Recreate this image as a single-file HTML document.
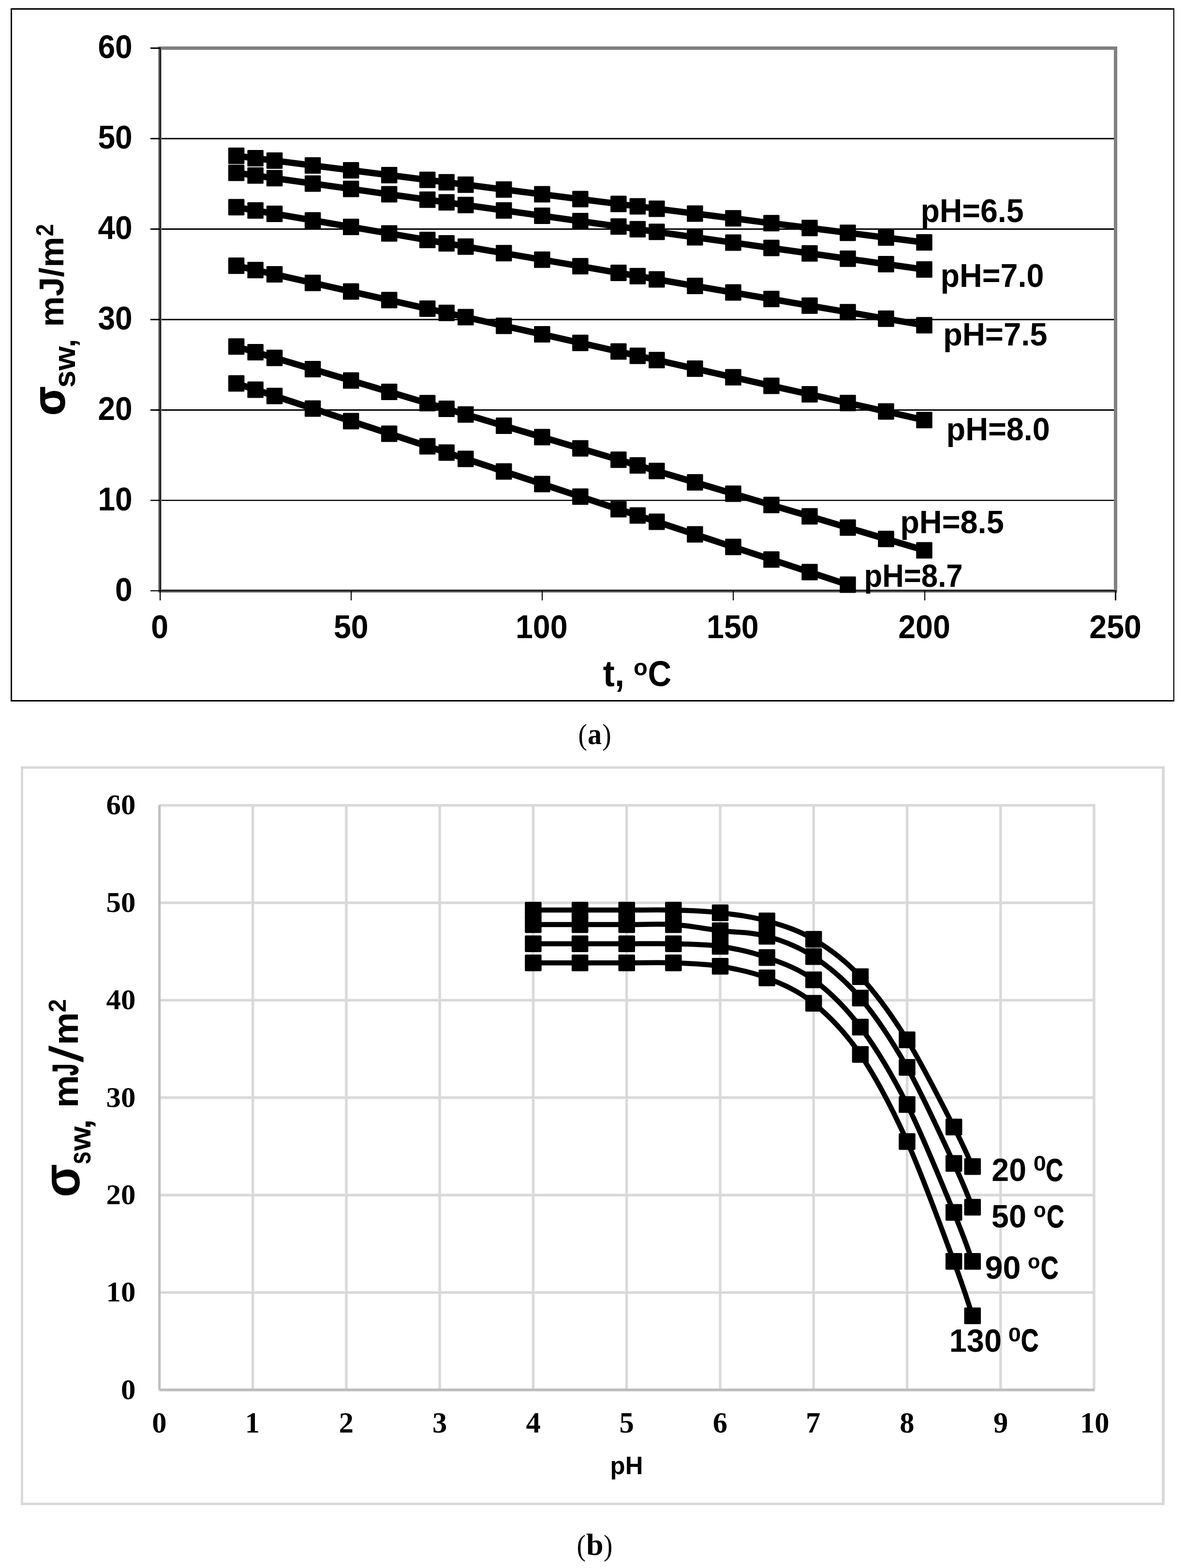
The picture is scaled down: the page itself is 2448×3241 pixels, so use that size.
<!DOCTYPE html>
<html lang="en">
<head>
<meta charset="utf-8">
<title>Figure: surface energy vs temperature and pH</title>
<style>
html,body{margin:0;padding:0;background:#fff;}
body{width:2448px;height:3241px;overflow:hidden;}
svg{display:block;}
text{white-space:pre;}
</style>
</head>
<body>
<svg width="2448" height="3241" viewBox="0 0 2448 3241">
<rect x="0" y="0" width="2448" height="3241" fill="#fff"/>
<g id="chart-a">
<rect x="22" y="17" width="2406" height="1433" fill="#fff"/>
<rect x="22" y="17" width="2406" height="3" fill="#000"/>
<rect x="22" y="1447" width="2406" height="3" fill="#000"/>
<rect x="22" y="17" width="3" height="1433" fill="#000"/>
<rect x="2425.8" y="17" width="2.2" height="1433" fill="#000"/>
<rect x="330.5" y="99.5" width="1976" height="1122" fill="#fff" stroke="#808080" stroke-width="7"/>
<rect x="334" y="1033.0" width="1969" height="2.4" fill="#000"/>
<rect x="334" y="846.0" width="1969" height="3" fill="#000"/>
<rect x="334" y="659.0" width="1969" height="3" fill="#000"/>
<rect x="334" y="472.0" width="1969" height="3" fill="#000"/>
<rect x="334" y="285.0" width="1969" height="3" fill="#000"/>
<rect x="330" y="98" width="2.2" height="1143" fill="#000"/>
<rect x="311" y="1220" width="1997" height="2.2" fill="#000"/>
<rect x="311" y="1033.0" width="20" height="2.4" fill="#000"/>
<rect x="311" y="846.0" width="20" height="3" fill="#000"/>
<rect x="311" y="659.0" width="20" height="3" fill="#000"/>
<rect x="311" y="472.0" width="20" height="3" fill="#000"/>
<rect x="311" y="285.0" width="20" height="3" fill="#000"/>
<rect x="311" y="98.0" width="20" height="3" fill="#000"/>
<rect x="330" y="1221" width="2.1" height="20" fill="#000"/>
<rect x="725" y="1221" width="2.1" height="20" fill="#000"/>
<rect x="1120" y="1221" width="2.1" height="20" fill="#000"/>
<rect x="1515" y="1221" width="2.1" height="20" fill="#000"/>
<rect x="1911" y="1221" width="2.1" height="20" fill="#000"/>
<rect x="2305" y="1221" width="3" height="20" fill="#000"/>
<path d="M488.6,322.1 L528.2,327.1 L567.7,332.0 L646.7,342.0 L725.7,351.9 L804.7,361.9 L883.7,371.8 L923.2,376.8 L962.8,381.7 L1041.8,391.7 L1120.8,401.6 L1199.8,411.6 L1278.8,421.5 L1318.3,426.5 L1357.9,431.5 L1436.9,441.4 L1515.9,451.3 L1594.9,461.3 L1673.9,471.2 L1753.0,481.2 L1832.0,491.1 L1911.0,501.1" fill="none" stroke="#000" stroke-width="13.3" stroke-linejoin="round"/>
<rect x="471.9" y="305.1" width="33.5" height="34" rx="1.5" fill="#000"/>
<rect x="511.4" y="310.1" width="33.5" height="34" rx="1.5" fill="#000"/>
<rect x="550.9" y="315.0" width="33.5" height="34" rx="1.5" fill="#000"/>
<rect x="629.9" y="325.0" width="33.5" height="34" rx="1.5" fill="#000"/>
<rect x="709.0" y="334.9" width="33.5" height="34" rx="1.5" fill="#000"/>
<rect x="788.0" y="344.9" width="33.5" height="34" rx="1.5" fill="#000"/>
<rect x="867.0" y="354.8" width="33.5" height="34" rx="1.5" fill="#000"/>
<rect x="906.5" y="359.8" width="33.5" height="34" rx="1.5" fill="#000"/>
<rect x="946.0" y="364.7" width="33.5" height="34" rx="1.5" fill="#000"/>
<rect x="1025.0" y="374.7" width="33.5" height="34" rx="1.5" fill="#000"/>
<rect x="1104.1" y="384.6" width="33.5" height="34" rx="1.5" fill="#000"/>
<rect x="1183.1" y="394.6" width="33.5" height="34" rx="1.5" fill="#000"/>
<rect x="1262.1" y="404.5" width="33.5" height="34" rx="1.5" fill="#000"/>
<rect x="1301.6" y="409.5" width="33.5" height="34" rx="1.5" fill="#000"/>
<rect x="1341.1" y="414.5" width="33.5" height="34" rx="1.5" fill="#000"/>
<rect x="1420.1" y="424.4" width="33.5" height="34" rx="1.5" fill="#000"/>
<rect x="1499.2" y="434.3" width="33.5" height="34" rx="1.5" fill="#000"/>
<rect x="1578.2" y="444.3" width="33.5" height="34" rx="1.5" fill="#000"/>
<rect x="1657.2" y="454.2" width="33.5" height="34" rx="1.5" fill="#000"/>
<rect x="1736.2" y="464.2" width="33.5" height="34" rx="1.5" fill="#000"/>
<rect x="1815.2" y="474.1" width="33.5" height="34" rx="1.5" fill="#000"/>
<rect x="1894.2" y="484.1" width="33.5" height="34" rx="1.5" fill="#000"/>
<path d="M488.6,357.2 L528.2,362.8 L567.7,368.3 L646.7,379.4 L725.7,390.5 L804.7,401.6 L883.7,412.7 L923.2,418.3 L962.8,423.8 L1041.8,434.9 L1120.8,446.0 L1199.8,457.1 L1278.8,468.2 L1318.3,473.7 L1357.9,479.3 L1436.9,490.4 L1515.9,501.5 L1594.9,512.6 L1673.9,523.7 L1753.0,534.8 L1832.0,545.9 L1911.0,557.0" fill="none" stroke="#000" stroke-width="13.3" stroke-linejoin="round"/>
<rect x="471.9" y="340.2" width="33.5" height="34" rx="1.5" fill="#000"/>
<rect x="511.4" y="345.8" width="33.5" height="34" rx="1.5" fill="#000"/>
<rect x="550.9" y="351.3" width="33.5" height="34" rx="1.5" fill="#000"/>
<rect x="629.9" y="362.4" width="33.5" height="34" rx="1.5" fill="#000"/>
<rect x="709.0" y="373.5" width="33.5" height="34" rx="1.5" fill="#000"/>
<rect x="788.0" y="384.6" width="33.5" height="34" rx="1.5" fill="#000"/>
<rect x="867.0" y="395.7" width="33.5" height="34" rx="1.5" fill="#000"/>
<rect x="906.5" y="401.3" width="33.5" height="34" rx="1.5" fill="#000"/>
<rect x="946.0" y="406.8" width="33.5" height="34" rx="1.5" fill="#000"/>
<rect x="1025.0" y="417.9" width="33.5" height="34" rx="1.5" fill="#000"/>
<rect x="1104.1" y="429.0" width="33.5" height="34" rx="1.5" fill="#000"/>
<rect x="1183.1" y="440.1" width="33.5" height="34" rx="1.5" fill="#000"/>
<rect x="1262.1" y="451.2" width="33.5" height="34" rx="1.5" fill="#000"/>
<rect x="1301.6" y="456.7" width="33.5" height="34" rx="1.5" fill="#000"/>
<rect x="1341.1" y="462.3" width="33.5" height="34" rx="1.5" fill="#000"/>
<rect x="1420.1" y="473.4" width="33.5" height="34" rx="1.5" fill="#000"/>
<rect x="1499.2" y="484.5" width="33.5" height="34" rx="1.5" fill="#000"/>
<rect x="1578.2" y="495.6" width="33.5" height="34" rx="1.5" fill="#000"/>
<rect x="1657.2" y="506.7" width="33.5" height="34" rx="1.5" fill="#000"/>
<rect x="1736.2" y="517.8" width="33.5" height="34" rx="1.5" fill="#000"/>
<rect x="1815.2" y="528.9" width="33.5" height="34" rx="1.5" fill="#000"/>
<rect x="1894.2" y="540.0" width="33.5" height="34" rx="1.5" fill="#000"/>
<path d="M488.6,428.3 L528.2,435.1 L567.7,441.9 L646.7,455.4 L725.7,469.0 L804.7,482.5 L883.7,496.1 L923.2,502.9 L962.8,509.7 L1041.8,523.2 L1120.8,536.8 L1199.8,550.3 L1278.8,563.9 L1318.3,570.7 L1357.9,577.4 L1436.9,591.0 L1515.9,604.6 L1594.9,618.1 L1673.9,631.7 L1753.0,645.2 L1832.0,658.8 L1911.0,672.3" fill="none" stroke="#000" stroke-width="13.3" stroke-linejoin="round"/>
<rect x="471.9" y="411.3" width="33.5" height="34" rx="1.5" fill="#000"/>
<rect x="511.4" y="418.1" width="33.5" height="34" rx="1.5" fill="#000"/>
<rect x="550.9" y="424.9" width="33.5" height="34" rx="1.5" fill="#000"/>
<rect x="629.9" y="438.4" width="33.5" height="34" rx="1.5" fill="#000"/>
<rect x="709.0" y="452.0" width="33.5" height="34" rx="1.5" fill="#000"/>
<rect x="788.0" y="465.5" width="33.5" height="34" rx="1.5" fill="#000"/>
<rect x="867.0" y="479.1" width="33.5" height="34" rx="1.5" fill="#000"/>
<rect x="906.5" y="485.9" width="33.5" height="34" rx="1.5" fill="#000"/>
<rect x="946.0" y="492.7" width="33.5" height="34" rx="1.5" fill="#000"/>
<rect x="1025.0" y="506.2" width="33.5" height="34" rx="1.5" fill="#000"/>
<rect x="1104.1" y="519.8" width="33.5" height="34" rx="1.5" fill="#000"/>
<rect x="1183.1" y="533.3" width="33.5" height="34" rx="1.5" fill="#000"/>
<rect x="1262.1" y="546.9" width="33.5" height="34" rx="1.5" fill="#000"/>
<rect x="1301.6" y="553.7" width="33.5" height="34" rx="1.5" fill="#000"/>
<rect x="1341.1" y="560.4" width="33.5" height="34" rx="1.5" fill="#000"/>
<rect x="1420.1" y="574.0" width="33.5" height="34" rx="1.5" fill="#000"/>
<rect x="1499.2" y="587.6" width="33.5" height="34" rx="1.5" fill="#000"/>
<rect x="1578.2" y="601.1" width="33.5" height="34" rx="1.5" fill="#000"/>
<rect x="1657.2" y="614.7" width="33.5" height="34" rx="1.5" fill="#000"/>
<rect x="1736.2" y="628.2" width="33.5" height="34" rx="1.5" fill="#000"/>
<rect x="1815.2" y="641.8" width="33.5" height="34" rx="1.5" fill="#000"/>
<rect x="1894.2" y="655.3" width="33.5" height="34" rx="1.5" fill="#000"/>
<path d="M488.6,549.3 L528.2,558.2 L567.7,567.0 L646.7,584.7 L725.7,602.5 L804.7,620.2 L883.7,637.9 L923.2,646.8 L962.8,655.6 L1041.8,673.4 L1120.8,691.1 L1199.8,708.8 L1278.8,726.5 L1318.3,735.4 L1357.9,744.3 L1436.9,762.0 L1515.9,779.7 L1594.9,797.4 L1673.9,815.1 L1753.0,832.9 L1832.0,850.6 L1911.0,868.3" fill="none" stroke="#000" stroke-width="13.3" stroke-linejoin="round"/>
<rect x="471.9" y="532.3" width="33.5" height="34" rx="1.5" fill="#000"/>
<rect x="511.4" y="541.2" width="33.5" height="34" rx="1.5" fill="#000"/>
<rect x="550.9" y="550.0" width="33.5" height="34" rx="1.5" fill="#000"/>
<rect x="629.9" y="567.7" width="33.5" height="34" rx="1.5" fill="#000"/>
<rect x="709.0" y="585.5" width="33.5" height="34" rx="1.5" fill="#000"/>
<rect x="788.0" y="603.2" width="33.5" height="34" rx="1.5" fill="#000"/>
<rect x="867.0" y="620.9" width="33.5" height="34" rx="1.5" fill="#000"/>
<rect x="906.5" y="629.8" width="33.5" height="34" rx="1.5" fill="#000"/>
<rect x="946.0" y="638.6" width="33.5" height="34" rx="1.5" fill="#000"/>
<rect x="1025.0" y="656.4" width="33.5" height="34" rx="1.5" fill="#000"/>
<rect x="1104.1" y="674.1" width="33.5" height="34" rx="1.5" fill="#000"/>
<rect x="1183.1" y="691.8" width="33.5" height="34" rx="1.5" fill="#000"/>
<rect x="1262.1" y="709.5" width="33.5" height="34" rx="1.5" fill="#000"/>
<rect x="1301.6" y="718.4" width="33.5" height="34" rx="1.5" fill="#000"/>
<rect x="1341.1" y="727.3" width="33.5" height="34" rx="1.5" fill="#000"/>
<rect x="1420.1" y="745.0" width="33.5" height="34" rx="1.5" fill="#000"/>
<rect x="1499.2" y="762.7" width="33.5" height="34" rx="1.5" fill="#000"/>
<rect x="1578.2" y="780.4" width="33.5" height="34" rx="1.5" fill="#000"/>
<rect x="1657.2" y="798.1" width="33.5" height="34" rx="1.5" fill="#000"/>
<rect x="1736.2" y="815.9" width="33.5" height="34" rx="1.5" fill="#000"/>
<rect x="1815.2" y="833.6" width="33.5" height="34" rx="1.5" fill="#000"/>
<rect x="1894.2" y="851.3" width="33.5" height="34" rx="1.5" fill="#000"/>
<path d="M488.6,716.3 L528.2,728.0 L567.7,739.7 L646.7,763.1 L725.7,786.5 L804.7,809.9 L883.7,833.3 L923.2,845.0 L962.8,856.7 L1041.8,880.1 L1120.8,903.5 L1199.8,926.8 L1278.8,950.2 L1318.3,961.9 L1357.9,973.6 L1436.9,997.0 L1515.9,1020.4 L1594.9,1043.8 L1673.9,1067.2 L1753.0,1090.6 L1832.0,1114.0 L1911.0,1137.4" fill="none" stroke="#000" stroke-width="13.3" stroke-linejoin="round"/>
<rect x="471.9" y="699.3" width="33.5" height="34" rx="1.5" fill="#000"/>
<rect x="511.4" y="711.0" width="33.5" height="34" rx="1.5" fill="#000"/>
<rect x="550.9" y="722.7" width="33.5" height="34" rx="1.5" fill="#000"/>
<rect x="629.9" y="746.1" width="33.5" height="34" rx="1.5" fill="#000"/>
<rect x="709.0" y="769.5" width="33.5" height="34" rx="1.5" fill="#000"/>
<rect x="788.0" y="792.9" width="33.5" height="34" rx="1.5" fill="#000"/>
<rect x="867.0" y="816.3" width="33.5" height="34" rx="1.5" fill="#000"/>
<rect x="906.5" y="828.0" width="33.5" height="34" rx="1.5" fill="#000"/>
<rect x="946.0" y="839.7" width="33.5" height="34" rx="1.5" fill="#000"/>
<rect x="1025.0" y="863.1" width="33.5" height="34" rx="1.5" fill="#000"/>
<rect x="1104.1" y="886.5" width="33.5" height="34" rx="1.5" fill="#000"/>
<rect x="1183.1" y="909.8" width="33.5" height="34" rx="1.5" fill="#000"/>
<rect x="1262.1" y="933.2" width="33.5" height="34" rx="1.5" fill="#000"/>
<rect x="1301.6" y="944.9" width="33.5" height="34" rx="1.5" fill="#000"/>
<rect x="1341.1" y="956.6" width="33.5" height="34" rx="1.5" fill="#000"/>
<rect x="1420.1" y="980.0" width="33.5" height="34" rx="1.5" fill="#000"/>
<rect x="1499.2" y="1003.4" width="33.5" height="34" rx="1.5" fill="#000"/>
<rect x="1578.2" y="1026.8" width="33.5" height="34" rx="1.5" fill="#000"/>
<rect x="1657.2" y="1050.2" width="33.5" height="34" rx="1.5" fill="#000"/>
<rect x="1736.2" y="1073.6" width="33.5" height="34" rx="1.5" fill="#000"/>
<rect x="1815.2" y="1097.0" width="33.5" height="34" rx="1.5" fill="#000"/>
<rect x="1894.2" y="1120.4" width="33.5" height="34" rx="1.5" fill="#000"/>
<path d="M488.6,792.4 L528.2,805.4 L567.7,818.4 L646.7,844.4 L725.7,870.4 L804.7,896.4 L883.7,922.4 L923.2,935.4 L962.8,948.4 L1041.8,974.4 L1120.8,1000.4 L1199.8,1026.4 L1278.8,1052.4 L1318.3,1065.4 L1357.9,1078.4 L1436.9,1104.5 L1515.9,1130.5 L1594.9,1156.5 L1673.9,1182.5 L1753.0,1208.5" fill="none" stroke="#000" stroke-width="13.3" stroke-linejoin="round"/>
<rect x="471.9" y="775.4" width="33.5" height="34" rx="1.5" fill="#000"/>
<rect x="511.4" y="788.4" width="33.5" height="34" rx="1.5" fill="#000"/>
<rect x="550.9" y="801.4" width="33.5" height="34" rx="1.5" fill="#000"/>
<rect x="629.9" y="827.4" width="33.5" height="34" rx="1.5" fill="#000"/>
<rect x="709.0" y="853.4" width="33.5" height="34" rx="1.5" fill="#000"/>
<rect x="788.0" y="879.4" width="33.5" height="34" rx="1.5" fill="#000"/>
<rect x="867.0" y="905.4" width="33.5" height="34" rx="1.5" fill="#000"/>
<rect x="906.5" y="918.4" width="33.5" height="34" rx="1.5" fill="#000"/>
<rect x="946.0" y="931.4" width="33.5" height="34" rx="1.5" fill="#000"/>
<rect x="1025.0" y="957.4" width="33.5" height="34" rx="1.5" fill="#000"/>
<rect x="1104.1" y="983.4" width="33.5" height="34" rx="1.5" fill="#000"/>
<rect x="1183.1" y="1009.4" width="33.5" height="34" rx="1.5" fill="#000"/>
<rect x="1262.1" y="1035.4" width="33.5" height="34" rx="1.5" fill="#000"/>
<rect x="1301.6" y="1048.4" width="33.5" height="34" rx="1.5" fill="#000"/>
<rect x="1341.1" y="1061.4" width="33.5" height="34" rx="1.5" fill="#000"/>
<rect x="1420.1" y="1087.5" width="33.5" height="34" rx="1.5" fill="#000"/>
<rect x="1499.2" y="1113.5" width="33.5" height="34" rx="1.5" fill="#000"/>
<rect x="1578.2" y="1139.5" width="33.5" height="34" rx="1.5" fill="#000"/>
<rect x="1657.2" y="1165.5" width="33.5" height="34" rx="1.5" fill="#000"/>
<rect x="1736.2" y="1191.5" width="33.5" height="34" rx="1.5" fill="#000"/>
<g fill="#000">
<text x="237.90" y="1242.12" font-family="'Liberation Sans', Arial, Helvetica, sans-serif" font-weight="bold" font-size="68.21" textLength="35.63" lengthAdjust="spacingAndGlyphs">0</text>
<text x="202.45" y="1055.12" font-family="'Liberation Sans', Arial, Helvetica, sans-serif" font-weight="bold" font-size="68.21" textLength="71.26" lengthAdjust="spacingAndGlyphs">10</text>
<text x="202.45" y="868.12" font-family="'Liberation Sans', Arial, Helvetica, sans-serif" font-weight="bold" font-size="68.21" textLength="71.26" lengthAdjust="spacingAndGlyphs">20</text>
<text x="202.45" y="681.12" font-family="'Liberation Sans', Arial, Helvetica, sans-serif" font-weight="bold" font-size="68.21" textLength="71.26" lengthAdjust="spacingAndGlyphs">30</text>
<text x="202.45" y="494.12" font-family="'Liberation Sans', Arial, Helvetica, sans-serif" font-weight="bold" font-size="68.21" textLength="71.26" lengthAdjust="spacingAndGlyphs">40</text>
<text x="202.45" y="307.12" font-family="'Liberation Sans', Arial, Helvetica, sans-serif" font-weight="bold" font-size="68.21" textLength="71.26" lengthAdjust="spacingAndGlyphs">50</text>
<text x="202.45" y="120.12" font-family="'Liberation Sans', Arial, Helvetica, sans-serif" font-weight="bold" font-size="68.21" textLength="71.26" lengthAdjust="spacingAndGlyphs">60</text>
<text x="312.34" y="1319.42" font-family="'Liberation Sans', Arial, Helvetica, sans-serif" font-weight="bold" font-size="67.78" textLength="35.88" lengthAdjust="spacingAndGlyphs">0</text>
<text x="689.91" y="1319.42" font-family="'Liberation Sans', Arial, Helvetica, sans-serif" font-weight="bold" font-size="67.78" textLength="71.77" lengthAdjust="spacingAndGlyphs">50</text>
<text x="1065.98" y="1319.42" font-family="'Liberation Sans', Arial, Helvetica, sans-serif" font-weight="bold" font-size="67.78" textLength="107.65" lengthAdjust="spacingAndGlyphs">100</text>
<text x="1461.08" y="1319.42" font-family="'Liberation Sans', Arial, Helvetica, sans-serif" font-weight="bold" font-size="67.78" textLength="107.65" lengthAdjust="spacingAndGlyphs">150</text>
<text x="1857.15" y="1319.42" font-family="'Liberation Sans', Arial, Helvetica, sans-serif" font-weight="bold" font-size="67.78" textLength="107.65" lengthAdjust="spacingAndGlyphs">200</text>
<text x="2252.25" y="1319.42" font-family="'Liberation Sans', Arial, Helvetica, sans-serif" font-weight="bold" font-size="67.78" textLength="107.65" lengthAdjust="spacingAndGlyphs">250</text>
<text x="1903.51" y="459.00" font-family="'Liberation Sans', Arial, Helvetica, sans-serif" font-weight="bold" font-size="67.68" textLength="213.04" lengthAdjust="spacingAndGlyphs">pH=6.5</text>
<text x="1944.59" y="593.30" font-family="'Liberation Sans', Arial, Helvetica, sans-serif" font-weight="bold" font-size="68.12" textLength="213.83" lengthAdjust="spacingAndGlyphs">pH=7.0</text>
<text x="1949.95" y="714.30" font-family="'Liberation Sans', Arial, Helvetica, sans-serif" font-weight="bold" font-size="67.54" textLength="215.62" lengthAdjust="spacingAndGlyphs">pH=7.5</text>
<text x="1956.58" y="910.20" font-family="'Liberation Sans', Arial, Helvetica, sans-serif" font-weight="bold" font-size="67.39" textLength="214.34" lengthAdjust="spacingAndGlyphs">pH=8.0</text>
<text x="1861.17" y="1101.70" font-family="'Liberation Sans', Arial, Helvetica, sans-serif" font-weight="bold" font-size="67.39" textLength="214.59" lengthAdjust="spacingAndGlyphs">pH=8.5</text>
<text x="1786.59" y="1213.00" font-family="'Liberation Sans', Arial, Helvetica, sans-serif" font-weight="bold" font-size="65.80" textLength="204.02" lengthAdjust="spacingAndGlyphs">pH=8.7</text>
<text><tspan x="1246.83" y="1417.95" font-family="'Liberation Sans', Arial, Helvetica, sans-serif" font-weight="bold" font-size="76.30" textLength="64.39" lengthAdjust="spacingAndGlyphs">t, </tspan><tspan x="1310.11" y="1395.92" font-family="'Liberation Sans', Arial, Helvetica, sans-serif" font-weight="bold" font-size="48.29" textLength="28.86" lengthAdjust="spacingAndGlyphs">o</tspan><tspan x="1339.50" y="1417.56" font-family="'Liberation Sans', Arial, Helvetica, sans-serif" font-weight="bold" font-size="74.15" textLength="48.75" lengthAdjust="spacingAndGlyphs">C</tspan></text>
<text transform="rotate(-90)"><tspan x="-858.51" y="133.14" font-family="'Liberation Sans', Arial, Helvetica, sans-serif" font-weight="bold" font-size="93.21" textLength="59.44" lengthAdjust="spacingAndGlyphs" stroke="#000" stroke-width="1.86" stroke-linejoin="round">σ</tspan><tspan x="-801.55" y="154.94" font-family="'Liberation Sans', Arial, Helvetica, sans-serif" font-weight="bold" font-size="63.61" textLength="118.84" lengthAdjust="spacingAndGlyphs">sw, </tspan><tspan x="-675.76" y="130.90" font-family="'Liberation Sans', Arial, Helvetica, sans-serif" font-weight="bold" font-size="70.04" textLength="186.40" lengthAdjust="spacingAndGlyphs">mJ/m</tspan><tspan x="-488.31" y="110.20" font-family="'Liberation Sans', Arial, Helvetica, sans-serif" font-weight="bold" font-size="49.23" textLength="25.20" lengthAdjust="spacingAndGlyphs">2</tspan></text>
</g>
</g>
<g fill="#000">
<text><tspan x="1195.40" y="1539.07" font-family="'Liberation Serif', 'Times New Roman', Times, serif" font-weight="normal" font-size="61.11" textLength="18.42" lengthAdjust="spacingAndGlyphs">(</tspan><tspan x="1214.96" y="1538.30" font-family="'Liberation Serif', 'Times New Roman', Times, serif" font-weight="bold" font-size="60.21" textLength="29.11" lengthAdjust="spacingAndGlyphs">a</tspan><tspan x="1245.14" y="1539.07" font-family="'Liberation Serif', 'Times New Roman', Times, serif" font-weight="normal" font-size="61.11" textLength="18.55" lengthAdjust="spacingAndGlyphs">)</tspan></text>
</g>
<g id="chart-b">
<rect x="43" y="1584" width="2365" height="1527" fill="#fff"/>
<rect x="43" y="1584" width="2365" height="5" fill="#d9d9d9"/>
<rect x="43" y="3106" width="2365" height="5" fill="#d9d9d9"/>
<rect x="43" y="1584" width="5" height="1527" fill="#d9d9d9"/>
<rect x="2402" y="1584" width="6" height="1527" fill="#d9d9d9"/>
<rect x="329.5" y="2668.9" width="1935" height="5.4" fill="#d9d9d9"/>
<rect x="329.5" y="2467.5" width="1935" height="5.4" fill="#d9d9d9"/>
<rect x="329.5" y="2266.1" width="1935" height="5.4" fill="#d9d9d9"/>
<rect x="329.5" y="2064.7" width="1935" height="5.4" fill="#d9d9d9"/>
<rect x="329.5" y="1863.3" width="1935" height="5.4" fill="#d9d9d9"/>
<rect x="329.5" y="1661.9" width="1935" height="5.4" fill="#d9d9d9"/>
<rect x="520.0" y="1662" width="5.4" height="1211" fill="#d9d9d9"/>
<rect x="713.3" y="1662" width="5.4" height="1211" fill="#d9d9d9"/>
<rect x="906.5" y="1662" width="5.4" height="1211" fill="#d9d9d9"/>
<rect x="1099.8" y="1662" width="5.4" height="1211" fill="#d9d9d9"/>
<rect x="1293.0" y="1662" width="5.4" height="1211" fill="#d9d9d9"/>
<rect x="1486.3" y="1662" width="5.4" height="1211" fill="#d9d9d9"/>
<rect x="1679.5" y="1662" width="5.4" height="1211" fill="#d9d9d9"/>
<rect x="1872.8" y="1662" width="5.4" height="1211" fill="#d9d9d9"/>
<rect x="2066.1" y="1662" width="5.4" height="1211" fill="#d9d9d9"/>
<rect x="2259.3" y="1662" width="5.4" height="1211" fill="#d9d9d9"/>
<rect x="327.2" y="1664" width="5" height="1209" fill="#bfbfbf"/>
<rect x="329.3" y="2870" width="1933.7" height="5.8" fill="#bfbfbf"/>
<path d="M1102.5,1881.1 C1118.6,1881.1 1166.9,1881.1 1199.1,1881.1 C1231.3,1881.1 1263.5,1881.1 1295.8,1881.1 C1328.0,1881.1 1360.2,1880.2 1392.4,1881.1 C1424.6,1882.0 1456.8,1883.0 1489.0,1886.7 C1521.2,1890.5 1553.4,1894.3 1585.6,1903.5 C1617.8,1912.6 1650.0,1922.3 1682.2,1941.5 C1714.5,1960.7 1746.7,1984.0 1778.9,2018.7 C1811.1,2053.3 1843.3,2097.6 1875.5,2149.4 C1907.7,2201.2 1949.6,2285.8 1972.1,2329.4 C1994.7,2373.1 2004.3,2397.7 2010.8,2411.4" fill="none" stroke="#000" stroke-width="10.5" stroke-linejoin="round"/>
<rect x="1085.2" y="1863.9" width="34.5" height="34.5" rx="2" fill="#000"/>
<rect x="1181.9" y="1863.9" width="34.5" height="34.5" rx="2" fill="#000"/>
<rect x="1278.5" y="1863.9" width="34.5" height="34.5" rx="2" fill="#000"/>
<rect x="1375.1" y="1863.9" width="34.5" height="34.5" rx="2" fill="#000"/>
<rect x="1471.8" y="1869.5" width="34.5" height="34.5" rx="2" fill="#000"/>
<rect x="1568.4" y="1886.2" width="34.5" height="34.5" rx="2" fill="#000"/>
<rect x="1665.0" y="1924.3" width="34.5" height="34.5" rx="2" fill="#000"/>
<rect x="1761.6" y="2001.4" width="34.5" height="34.5" rx="2" fill="#000"/>
<rect x="1858.2" y="2132.1" width="34.5" height="34.5" rx="2" fill="#000"/>
<rect x="1954.9" y="2312.2" width="34.5" height="34.5" rx="2" fill="#000"/>
<rect x="1993.5" y="2394.1" width="34.5" height="34.5" rx="2" fill="#000"/>
<path d="M1102.5,1911.1 C1118.6,1911.1 1166.9,1911.1 1199.1,1911.1 C1231.3,1911.1 1263.5,1911.1 1295.8,1911.1 C1328.0,1911.1 1360.2,1909.0 1392.4,1911.1 C1424.6,1913.2 1456.8,1919.6 1489.0,1923.6 C1521.2,1927.6 1553.4,1926.3 1585.6,1935.3 C1617.8,1944.2 1650.0,1956.1 1682.2,1977.4 C1714.5,1998.7 1746.7,2024.8 1778.9,2063.0 C1811.1,2101.1 1843.3,2149.4 1875.5,2206.4 C1907.7,2263.3 1949.6,2356.6 1972.1,2404.7 C1994.7,2452.9 2004.3,2480.3 2010.8,2495.4" fill="none" stroke="#000" stroke-width="10.5" stroke-linejoin="round"/>
<rect x="1085.2" y="1893.9" width="34.5" height="34.5" rx="2" fill="#000"/>
<rect x="1181.9" y="1893.9" width="34.5" height="34.5" rx="2" fill="#000"/>
<rect x="1278.5" y="1893.9" width="34.5" height="34.5" rx="2" fill="#000"/>
<rect x="1375.1" y="1893.9" width="34.5" height="34.5" rx="2" fill="#000"/>
<rect x="1471.8" y="1906.4" width="34.5" height="34.5" rx="2" fill="#000"/>
<rect x="1568.4" y="1918.0" width="34.5" height="34.5" rx="2" fill="#000"/>
<rect x="1665.0" y="1960.1" width="34.5" height="34.5" rx="2" fill="#000"/>
<rect x="1761.6" y="2045.7" width="34.5" height="34.5" rx="2" fill="#000"/>
<rect x="1858.2" y="2189.1" width="34.5" height="34.5" rx="2" fill="#000"/>
<rect x="1954.9" y="2387.5" width="34.5" height="34.5" rx="2" fill="#000"/>
<rect x="1993.5" y="2478.1" width="34.5" height="34.5" rx="2" fill="#000"/>
<path d="M1102.5,1950.8 C1118.6,1950.8 1166.9,1950.8 1199.1,1950.8 C1231.3,1950.8 1263.5,1950.8 1295.8,1950.8 C1328.0,1950.8 1360.2,1949.9 1392.4,1950.8 C1424.6,1951.7 1456.8,1951.3 1489.0,1956.0 C1521.2,1960.8 1553.4,1967.6 1585.6,1979.2 C1617.8,1990.7 1650.0,2001.3 1682.2,2025.3 C1714.5,2049.3 1746.7,2080.0 1778.9,2123.0 C1811.1,2166.0 1843.3,2219.3 1875.5,2283.1 C1907.7,2346.9 1949.6,2452.0 1972.1,2506.0 C1994.7,2560.1 2004.3,2590.5 2010.8,2607.4" fill="none" stroke="#000" stroke-width="10.5" stroke-linejoin="round"/>
<rect x="1085.2" y="1933.5" width="34.5" height="34.5" rx="2" fill="#000"/>
<rect x="1181.9" y="1933.5" width="34.5" height="34.5" rx="2" fill="#000"/>
<rect x="1278.5" y="1933.5" width="34.5" height="34.5" rx="2" fill="#000"/>
<rect x="1375.1" y="1933.5" width="34.5" height="34.5" rx="2" fill="#000"/>
<rect x="1471.8" y="1938.8" width="34.5" height="34.5" rx="2" fill="#000"/>
<rect x="1568.4" y="1961.9" width="34.5" height="34.5" rx="2" fill="#000"/>
<rect x="1665.0" y="2008.1" width="34.5" height="34.5" rx="2" fill="#000"/>
<rect x="1761.6" y="2105.7" width="34.5" height="34.5" rx="2" fill="#000"/>
<rect x="1858.2" y="2265.8" width="34.5" height="34.5" rx="2" fill="#000"/>
<rect x="1954.9" y="2488.8" width="34.5" height="34.5" rx="2" fill="#000"/>
<rect x="1993.5" y="2590.1" width="34.5" height="34.5" rx="2" fill="#000"/>
<path d="M1102.5,1990.3 C1118.6,1990.3 1166.9,1990.3 1199.1,1990.3 C1231.3,1990.3 1263.5,1990.3 1295.8,1990.3 C1328.0,1990.3 1360.2,1989.1 1392.4,1990.3 C1424.6,1991.4 1456.8,1992.1 1489.0,1997.3 C1521.2,2002.5 1553.4,2008.6 1585.6,2021.3 C1617.8,2034.0 1650.0,2047.3 1682.2,2073.6 C1714.5,2100.0 1746.7,2131.9 1778.9,2179.6 C1811.1,2227.2 1843.3,2288.1 1875.5,2359.4 C1907.7,2430.7 1949.6,2547.3 1972.1,2607.4 C1994.7,2667.4 2004.3,2701.0 2010.8,2719.7" fill="none" stroke="#000" stroke-width="10.5" stroke-linejoin="round"/>
<rect x="1085.2" y="1973.0" width="34.5" height="34.5" rx="2" fill="#000"/>
<rect x="1181.9" y="1973.0" width="34.5" height="34.5" rx="2" fill="#000"/>
<rect x="1278.5" y="1973.0" width="34.5" height="34.5" rx="2" fill="#000"/>
<rect x="1375.1" y="1973.0" width="34.5" height="34.5" rx="2" fill="#000"/>
<rect x="1471.8" y="1980.1" width="34.5" height="34.5" rx="2" fill="#000"/>
<rect x="1568.4" y="2004.0" width="34.5" height="34.5" rx="2" fill="#000"/>
<rect x="1665.0" y="2056.4" width="34.5" height="34.5" rx="2" fill="#000"/>
<rect x="1761.6" y="2162.3" width="34.5" height="34.5" rx="2" fill="#000"/>
<rect x="1858.2" y="2342.2" width="34.5" height="34.5" rx="2" fill="#000"/>
<rect x="1954.9" y="2590.1" width="34.5" height="34.5" rx="2" fill="#000"/>
<rect x="1993.5" y="2702.5" width="34.5" height="34.5" rx="2" fill="#000"/>
<g fill="#000">
<text x="250.00" y="2891.70" font-family="'Liberation Serif', 'Times New Roman', Times, serif" font-weight="bold" font-size="60.00" textLength="30.43" lengthAdjust="spacingAndGlyphs">0</text>
<text x="219.57" y="2690.30" font-family="'Liberation Serif', 'Times New Roman', Times, serif" font-weight="bold" font-size="60.00" textLength="60.86" lengthAdjust="spacingAndGlyphs">10</text>
<text x="219.57" y="2488.90" font-family="'Liberation Serif', 'Times New Roman', Times, serif" font-weight="bold" font-size="60.00" textLength="60.86" lengthAdjust="spacingAndGlyphs">20</text>
<text x="219.57" y="2287.50" font-family="'Liberation Serif', 'Times New Roman', Times, serif" font-weight="bold" font-size="60.00" textLength="60.86" lengthAdjust="spacingAndGlyphs">30</text>
<text x="219.57" y="2086.10" font-family="'Liberation Serif', 'Times New Roman', Times, serif" font-weight="bold" font-size="60.00" textLength="60.86" lengthAdjust="spacingAndGlyphs">40</text>
<text x="219.57" y="1884.70" font-family="'Liberation Serif', 'Times New Roman', Times, serif" font-weight="bold" font-size="60.00" textLength="60.86" lengthAdjust="spacingAndGlyphs">50</text>
<text x="219.57" y="1683.30" font-family="'Liberation Serif', 'Times New Roman', Times, serif" font-weight="bold" font-size="60.00" textLength="60.86" lengthAdjust="spacingAndGlyphs">60</text>
<text x="314.36" y="2960.99" font-family="'Liberation Serif', 'Times New Roman', Times, serif" font-weight="bold" font-size="60.59">0</text>
<text x="506.80" y="2960.99" font-family="'Liberation Serif', 'Times New Roman', Times, serif" font-weight="bold" font-size="60.59">1</text>
<text x="700.86" y="2960.99" font-family="'Liberation Serif', 'Times New Roman', Times, serif" font-weight="bold" font-size="60.59">2</text>
<text x="894.01" y="2960.99" font-family="'Liberation Serif', 'Times New Roman', Times, serif" font-weight="bold" font-size="60.59">3</text>
<text x="1087.56" y="2960.99" font-family="'Liberation Serif', 'Times New Roman', Times, serif" font-weight="bold" font-size="60.59">4</text>
<text x="1280.51" y="2960.99" font-family="'Liberation Serif', 'Times New Roman', Times, serif" font-weight="bold" font-size="60.59">5</text>
<text x="1473.76" y="2960.99" font-family="'Liberation Serif', 'Times New Roman', Times, serif" font-weight="bold" font-size="60.59">6</text>
<text x="1666.10" y="2960.99" font-family="'Liberation Serif', 'Times New Roman', Times, serif" font-weight="bold" font-size="60.59">7</text>
<text x="1860.36" y="2960.99" font-family="'Liberation Serif', 'Times New Roman', Times, serif" font-weight="bold" font-size="60.59">8</text>
<text x="2053.91" y="2960.99" font-family="'Liberation Serif', 'Times New Roman', Times, serif" font-weight="bold" font-size="60.59">9</text>
<text x="2232.90" y="2960.99" font-family="'Liberation Serif', 'Times New Roman', Times, serif" font-weight="bold" font-size="60.59">10</text>
<text x="1261.61" y="3047.14" font-family="'Liberation Sans', Arial, Helvetica, sans-serif" font-weight="bold" font-size="52.53" textLength="67.76" lengthAdjust="spacingAndGlyphs">pH</text>
<text><tspan x="2050.36" y="2441.43" font-family="'Liberation Sans', Arial, Helvetica, sans-serif" font-weight="bold" font-size="66.51" textLength="89.44" lengthAdjust="spacingAndGlyphs">20 </tspan><tspan x="2136.82" y="2420.46" font-family="'Liberation Sans', Arial, Helvetica, sans-serif" font-weight="bold" font-size="44.15" textLength="26.14" lengthAdjust="spacingAndGlyphs">0</tspan><tspan x="2162.31" y="2440.81" font-family="'Liberation Sans', Arial, Helvetica, sans-serif" font-weight="bold" font-size="64.68" textLength="35.82" lengthAdjust="spacingAndGlyphs" stroke="#000" stroke-width="1.29" stroke-linejoin="round">C</tspan></text>
<text><tspan x="2049.86" y="2537.14" font-family="'Liberation Sans', Arial, Helvetica, sans-serif" font-weight="bold" font-size="66.08" textLength="90.09" lengthAdjust="spacingAndGlyphs">50 </tspan><tspan x="2137.02" y="2516.16" font-family="'Liberation Sans', Arial, Helvetica, sans-serif" font-weight="bold" font-size="43.72" textLength="25.66" lengthAdjust="spacingAndGlyphs">o</tspan><tspan x="2164.32" y="2536.51" font-family="'Liberation Sans', Arial, Helvetica, sans-serif" font-weight="bold" font-size="64.27" textLength="35.72" lengthAdjust="spacingAndGlyphs" stroke="#000" stroke-width="1.29" stroke-linejoin="round">C</tspan></text>
<text><tspan x="2036.49" y="2643.13" font-family="'Liberation Sans', Arial, Helvetica, sans-serif" font-weight="bold" font-size="66.51">90 </tspan><tspan x="2124.93" y="2622.37" font-family="'Liberation Sans', Arial, Helvetica, sans-serif" font-weight="bold" font-size="42.80" textLength="25.43" lengthAdjust="spacingAndGlyphs">o</tspan><tspan x="2151.99" y="2642.51" font-family="'Liberation Sans', Arial, Helvetica, sans-serif" font-weight="bold" font-size="64.68" textLength="36.25" lengthAdjust="spacingAndGlyphs" stroke="#000" stroke-width="1.29" stroke-linejoin="round">C</tspan></text>
<text><tspan x="1962.69" y="2794.04" font-family="'Liberation Sans', Arial, Helvetica, sans-serif" font-weight="bold" font-size="66.08" textLength="126.36" lengthAdjust="spacingAndGlyphs">130 </tspan><tspan x="2084.72" y="2773.27" font-family="'Liberation Sans', Arial, Helvetica, sans-serif" font-weight="bold" font-size="43.30" textLength="26.14" lengthAdjust="spacingAndGlyphs">0</tspan><tspan x="2111.09" y="2793.41" font-family="'Liberation Sans', Arial, Helvetica, sans-serif" font-weight="bold" font-size="64.27" textLength="36.25" lengthAdjust="spacingAndGlyphs" stroke="#000" stroke-width="1.29" stroke-linejoin="round">C</tspan></text>
<text transform="rotate(-90)"><tspan x="-2474.63" y="164.02" font-family="'Liberation Sans', Arial, Helvetica, sans-serif" font-weight="bold" font-size="107.78" textLength="68.92" lengthAdjust="spacingAndGlyphs">σ</tspan><tspan x="-2406.86" y="187.46" font-family="'Liberation Sans', Arial, Helvetica, sans-serif" font-weight="bold" font-size="64.21" textLength="26.77" lengthAdjust="spacingAndGlyphs">s</tspan><tspan x="-2378.88" y="187.00" font-family="'Liberation Sans', Arial, Helvetica, sans-serif" font-weight="bold" font-size="62.45" textLength="50.74" lengthAdjust="spacingAndGlyphs">w</tspan><tspan x="-2334.50" y="186.78" font-family="'Liberation Sans', Arial, Helvetica, sans-serif" font-weight="bold" font-size="66.52" textLength="43.66" lengthAdjust="spacingAndGlyphs">, </tspan><tspan x="-2289.89" y="161.10" font-family="'Liberation Sans', Arial, Helvetica, sans-serif" font-weight="bold" font-size="74.91" textLength="67.86" lengthAdjust="spacingAndGlyphs">m</tspan><tspan x="-2222.90" y="160.55" font-family="'Liberation Sans', Arial, Helvetica, sans-serif" font-weight="bold" font-size="74.86" textLength="24.42" lengthAdjust="spacingAndGlyphs" stroke="#000" stroke-width="2.25" stroke-linejoin="round">J</tspan><tspan x="-2195.01" y="171.29" font-family="'Liberation Sans', Arial, Helvetica, sans-serif" font-weight="normal" font-size="96.43" textLength="33.05" lengthAdjust="spacingAndGlyphs" stroke="#000" stroke-width="1.16" stroke-linejoin="round">/</tspan><tspan x="-2159.99" y="161.10" font-family="'Liberation Sans', Arial, Helvetica, sans-serif" font-weight="bold" font-size="74.91" textLength="67.86" lengthAdjust="spacingAndGlyphs">m</tspan><tspan x="-2092.56" y="135.90" font-family="'Liberation Sans', Arial, Helvetica, sans-serif" font-weight="bold" font-size="50.24" textLength="27.62" lengthAdjust="spacingAndGlyphs">2</tspan></text>
</g>
</g>
<g fill="#000">
<text><tspan x="1192.39" y="3215.24" font-family="'Liberation Serif', 'Times New Roman', Times, serif" font-weight="normal" font-size="61.22" textLength="18.55" lengthAdjust="spacingAndGlyphs">(</tspan><tspan x="1212.04" y="3214.37" font-family="'Liberation Serif', 'Times New Roman', Times, serif" font-weight="bold" font-size="62.84" textLength="35.69" lengthAdjust="spacingAndGlyphs">b</tspan><tspan x="1248.06" y="3215.24" font-family="'Liberation Serif', 'Times New Roman', Times, serif" font-weight="normal" font-size="61.22" textLength="18.42" lengthAdjust="spacingAndGlyphs">)</tspan></text>
</g>
</svg>
</body>
</html>
